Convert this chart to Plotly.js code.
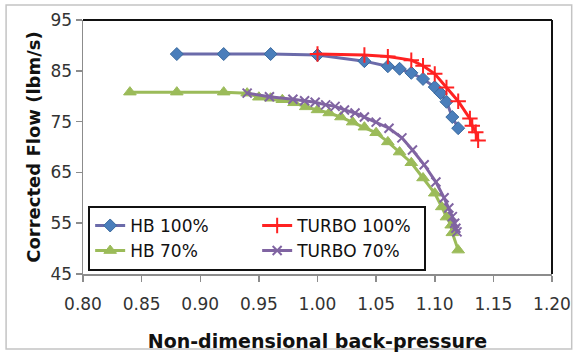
<!DOCTYPE html>
<html><head><meta charset="utf-8">
<script src="https://cdn.plot.ly/plotly-3.0.1.min.js"></script>
<style>html,body{margin:0;padding:0;background:#fff;}#chart{width:575px;height:352px;}</style>
</head><body><div id="chart"></div>
<script>
var hb100X = [0.88, 0.92, 0.96, 1.00, 1.04, 1.06, 1.07, 1.08, 1.09, 1.10, 1.105, 1.11, 1.115, 1.12];
var hb100Y = [88.3, 88.3, 88.3, 88.1, 86.9, 85.9, 85.4, 84.6, 83.4, 81.8, 80.6, 78.9, 75.9, 73.7];
var turbo100X = [1.00, 1.04, 1.06, 1.08, 1.09, 1.10, 1.11, 1.12, 1.13, 1.132, 1.135, 1.137];
var turbo100Y = [88.3, 88.1, 87.8, 87.1, 86.0, 84.4, 81.7, 79.0, 75.6, 74.2, 72.9, 71.3];
var hb70X = [0.84, 0.88, 0.92, 0.94, 0.95, 0.96, 0.97, 0.98, 0.99, 1.00, 1.01, 1.02, 1.03, 1.04, 1.05, 1.06, 1.07, 1.08, 1.09, 1.10, 1.106, 1.11, 1.114, 1.115, 1.12];
var hb70Y = [80.8, 80.8, 80.8, 80.6, 79.8, 79.6, 79.3, 78.7, 77.9, 77.3, 76.7, 75.9, 74.9, 73.9, 72.8, 71.0, 69.0, 66.9, 63.9, 60.9, 58.2, 56.2, 54.6, 53.1, 49.7];
var turbo70X = [0.94, 0.959, 0.979, 0.989, 0.998, 1.007, 1.015, 1.023, 1.032, 1.040, 1.050, 1.061, 1.072, 1.081, 1.091, 1.101, 1.108, 1.112, 1.115, 1.117, 1.118, 1.119];
var turbo70Y = [80.6, 79.9, 79.4, 79.1, 78.8, 78.3, 78.0, 77.3, 76.7, 75.9, 74.9, 73.7, 71.8, 69.4, 66.5, 63.1, 60.0, 58.0, 56.3, 55.0, 54.0, 53.3];
var seriesNames = ['HB 100%', 'TURBO 100%', 'HB 70%', 'TURBO 70%'];

var traces = [
  {x: hb100X, y: hb100Y, name: seriesNames[0], mode: 'lines+markers', type: 'scatter',
   line: {color: '#6B6BAA', width: 3},
   marker: {symbol: 'diamond', size: 10, color: '#4A7EBB', line: {color: '#3B6A9E', width: 1}}},
  {x: turbo100X, y: turbo100Y, name: seriesNames[1], mode: 'lines+markers', type: 'scatter',
   line: {color: '#FF2222', width: 3},
   marker: {symbol: 'cross-thin', size: 11, color: '#FF2222', line: {color: '#FF2222', width: 2}}},
  {x: hb70X, y: hb70Y, name: seriesNames[2], mode: 'lines+markers', type: 'scatter',
   line: {color: '#9BBB59', width: 3},
   marker: {symbol: 'triangle-up', size: 11, color: '#9BBB59', line: {color: '#9BBB59', width: 1}}},
  {x: turbo70X, y: turbo70Y, name: seriesNames[3], mode: 'lines+markers', type: 'scatter',
   line: {color: '#8064A2', width: 3},
   marker: {symbol: 'x-thin', size: 9, color: '#8064A2', line: {color: '#8064A2', width: 2}}}
];

var layout = {
  width: 575, height: 352,
  margin: {l: 83, r: 23, t: 20, b: 78},
  paper_bgcolor: '#fff', plot_bgcolor: '#fff',
  font: {family: 'DejaVu Sans, sans-serif', color: '#222'},
  showlegend: true,
  legend: {orientation: 'h', x: 0.011, y: 0.268, xanchor: 'left', yanchor: 'top',
    bgcolor: '#fff', bordercolor: '#111', borderwidth: 2,
    entrywidth: 122, entrywidthmode: 'pixels',
    font: {family: 'DejaVu Sans, sans-serif', size: 17, color: '#111'}},
  xaxis: {range: [0.80, 1.20], dtick: 0.05, tick0: 0.80, tickformat: '.2f',
    showgrid: false, zeroline: false, showline: true, linecolor: '#8C8C8C', linewidth: 1.5,
    ticks: 'outside', ticklen: 6, tickcolor: '#8C8C8C', tickwidth: 1.5,
    ticklabelstandoff: 8,
    tickfont: {size: 17, color: '#333'},
    title: {text: 'Non-dimensional back-pressure', font: {size: 19, family: 'DejaVu Sans, sans-serif', color: '#111', weight: 'bold'}, standoff: 22}},
  yaxis: {range: [45, 95], dtick: 10, tick0: 45,
    showgrid: false, zeroline: false, showline: true, linecolor: '#8C8C8C', linewidth: 1.5,
    ticks: 'outside', ticklen: 6, tickcolor: '#8C8C8C', tickwidth: 1.5,
    tickfont: {size: 17, color: '#333'},
    title: {text: 'Corrected Flow (lbm/s)', font: {size: 18, family: 'DejaVu Sans, sans-serif', color: '#111', weight: 'bold'}, standoff: 5}},
  shapes: [
    {type: 'line', xref: 'paper', yref: 'paper', x0: 0, x1: 1, y0: 1, y1: 1, line: {color: '#111', width: 2}},
    {type: 'line', xref: 'paper', yref: 'paper', x0: 1, x1: 1, y0: 0, y1: 1, line: {color: '#111', width: 2}},
    {type: 'rect', xref: 'paper', yref: 'paper', x0: -0.164, x1: 1.042, y0: -0.295, y1: 1.059, line: {color: '#C4C4C4', width: 1.5}}
  ]
};
Plotly.newPlot('chart', traces, layout, {displayModeBar: false, staticPlot: true});
</script></body></html>
